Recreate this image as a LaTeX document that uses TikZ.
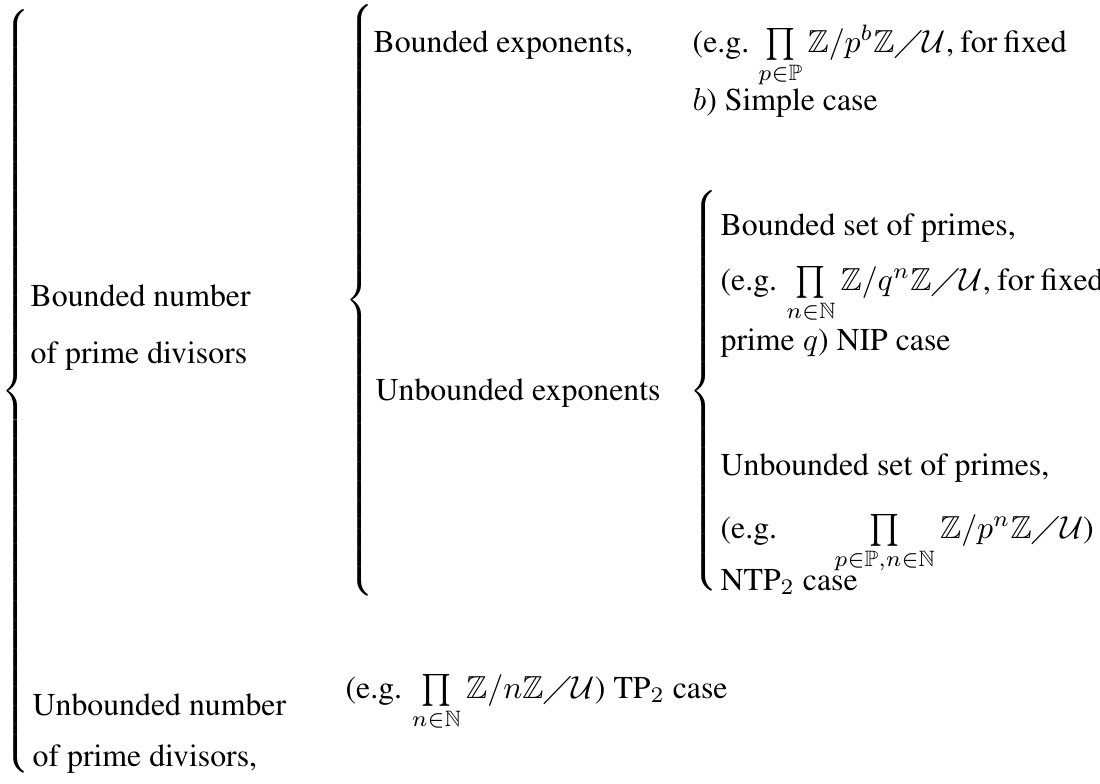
\documentclass[tikz,border=0pt]{standalone}
\usepackage[T1]{fontenc}
\usepackage{amssymb}
\renewcommand{\rmdefault}{ptm}

% left curly brace of a given height
\newcommand{\bigbrace}[1]{$\delimitershortfall=0pt\delimiterfactor=1000\left\{\vcenter{\hbox{\rule{0pt}{#1}}}\right.$}
% one justified line of a case column
\newcommand{\fullline}[1]{\makebox[4.122cm][s]{#1}}

\begin{document}
\begin{tikzpicture}
      % Define styles for nodes
      \tikzstyle{leaf} = [anchor=base west, inner sep=0pt]
      \tikzstyle{curly} = [anchor=west, inner sep=0pt]

      \useasboundingbox (0,0) rectangle (12.155,-8.663);

      % Braces
      \node[curly] (b1) at (0.011,-4.326) {\bigbrace{8.431cm}};
      \node[curly] (b2) at (3.812,-3.315) {\bigbrace{6.520cm}};
      \node[curly] (b3) at (7.614,-4.321) {\bigbrace{4.398cm}};

      % First level
      \node[leaf] (bn1) at (0.332,-3.392) {Bounded number};
      \node[leaf] (bn2) at (0.332,-4.011) {of prime divisors};
      \node[leaf] (un1) at (0.354,-7.901) {Unbounded number};
      \node[leaf] (un2) at (0.354,-8.475) {of prime divisors,};

      % Second level
      \node[leaf] (be) at (4.122,-0.575) {Bounded exponents,};
      \node[leaf] (ue) at (4.144,-4.420) {Unbounded exponents};
      \node[leaf] (tp) at (3.812,-7.713)
        {(e.g. $\prod\limits_{n\in\mathbb{N}}\mathbb{Z}/n\mathbb{Z}\diagup\mathcal{U}$) TP$_2$ case};

      % Bounded exponents
      \node[leaf] (sc1) at (7.647,-0.575)
        {\fullline{(e.g. $\prod\limits_{p\in\mathbb{P}}\mathbb{Z}/p^b\mathbb{Z}\diagup\mathcal{U}$, for fixed}};
      \node[leaf] (sc2) at (7.647,-1.216) {$b$) Simple case};

      % Unbounded exponents
      \node[leaf] (bs1) at (7.956,-2.597) {Bounded set of primes,};
      \node[leaf] (bs2) at (7.956,-3.205)
        {\fullline{(e.g. $\prod\limits_{n\in\mathbb{N}}\mathbb{Z}/q^n\mathbb{Z}\diagup\mathcal{U}$, for fixed}};
      \node[leaf] (bs3) at (7.956,-3.868) {prime $q$) NIP case};
      \node[leaf] (us1) at (7.956,-5.249) {Unbounded set of primes,};
      \node[leaf] (us2) at (7.956,-5.945)
        {\fullline{(e.g. $\prod\limits_{p\in\mathbb{P},n\in\mathbb{N}}\mathbb{Z}/p^n\mathbb{Z}\diagup\mathcal{U}$)}};
      \node[leaf] (us3) at (7.956,-6.520) {NTP$_2$ case};
\end{tikzpicture}
\end{document}
